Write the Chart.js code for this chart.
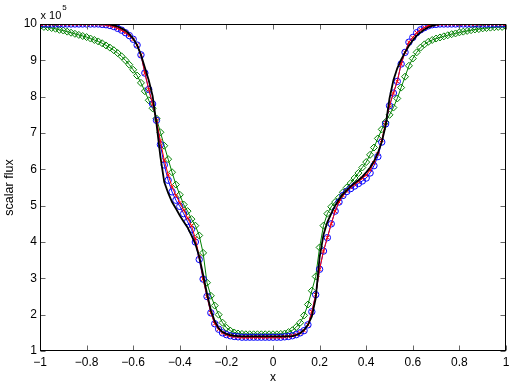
<!DOCTYPE html>
<html>
<head>
<meta charset="utf-8">
<script src="https://cdn.jsdelivr.net/npm/chart.js@4/dist/chart.umd.min.js"></script>
<style>
  html, body { margin: 0; padding: 0; background: #fff; }
  #wrap { width: 515px; height: 388px; }
</style>
</head>
<body>
<div id="wrap"><canvas id="flux" width="515" height="388"></canvas></div>
<script>
// x grid (cell positions)
const xGrid = [
  -1, -0.9833, -0.9667, -0.95, -0.9333, -0.9167, -0.9, -0.8833, -0.8667, -0.85, -0.8333, -0.8167,
  -0.8, -0.7833, -0.7667, -0.75, -0.7333, -0.7167, -0.7, -0.6833, -0.6667, -0.65, -0.6333, -0.6167,
  -0.6, -0.5833, -0.5667, -0.55, -0.5333, -0.5167, -0.5, -0.4833, -0.4667, -0.45, -0.4333, -0.4167,
  -0.4, -0.3833, -0.3667, -0.35, -0.3333, -0.3167, -0.3, -0.2833, -0.2667, -0.25, -0.2333, -0.2167,
  -0.2, -0.1833, -0.1667, -0.15, -0.1333, -0.1167, -0.1, -0.0833, -0.0667, -0.05, -0.0333, -0.0167,
  0, 0.0167, 0.0333, 0.05, 0.0667, 0.0833, 0.1, 0.1167, 0.1333, 0.15, 0.1667, 0.1833,
  0.2, 0.2167, 0.2333, 0.25, 0.2667, 0.2833, 0.3, 0.3167, 0.3333, 0.35, 0.3667, 0.3833,
  0.4, 0.4167, 0.4333, 0.45, 0.4667, 0.4833, 0.5, 0.5167, 0.5333, 0.55, 0.5667, 0.5833,
  0.6, 0.6167, 0.6333, 0.65, 0.6667, 0.6833, 0.7, 0.7167, 0.7333, 0.75, 0.7667, 0.7833,
  0.8, 0.8167, 0.8333, 0.85, 0.8667, 0.8833, 0.9, 0.9167, 0.9333, 0.95, 0.9667, 0.9833,
  1
];

// scalar flux, units of 1e5
const fluxBlack = [
  10, 10, 10, 10, 10, 10, 10, 10, 10, 10, 10, 10,
  10, 10, 10, 10, 10, 10, 9.99, 9.96, 9.93, 9.88, 9.82, 9.72,
  9.60, 9.42, 9.15, 8.80, 8.45, 8.02, 7.25, 6.35, 5.65, 5.35, 5.10, 4.92,
  4.73, 4.56, 4.40, 4.18, 3.95, 3.60, 3.10, 2.58, 2.12, 1.82, 1.63, 1.52,
  1.47, 1.44, 1.42, 1.41, 1.40, 1.40, 1.40, 1.40, 1.40, 1.40, 1.40, 1.40,
  1.40, 1.40, 1.40, 1.40, 1.40, 1.41, 1.44, 1.49, 1.58, 1.72, 1.95, 2.45,
  3.58, 4.20, 4.55, 4.78, 5.00, 5.17, 5.32, 5.43, 5.53, 5.62, 5.70, 5.80,
  5.92, 6.05, 6.22, 6.45, 6.75, 7.20, 7.95, 8.45, 8.78, 9.02, 9.22, 9.40,
  9.55, 9.68, 9.77, 9.85, 9.91, 9.95, 9.98, 10, 10, 10, 10, 10,
  10, 10, 10, 10, 10, 10, 10, 10, 10, 10, 10, 10,
  10
];

const fluxRed = [
  10, 10, 10, 10, 10, 10, 10, 10, 10, 10, 10, 10,
  10, 10, 10, 10, 9.99, 9.98, 9.96, 9.93, 9.88, 9.83, 9.76, 9.68,
  9.58, 9.42, 9.15, 8.65, 8.20, 7.80, 7.35, 6.78, 6.25, 5.85, 5.52, 5.28,
  5.08, 4.88, 4.66, 4.45, 4.10, 3.60, 2.98, 2.50, 2.05, 1.75, 1.60, 1.50,
  1.45, 1.42, 1.40, 1.39, 1.38, 1.38, 1.38, 1.38, 1.38, 1.38, 1.38, 1.38,
  1.38, 1.38, 1.38, 1.39, 1.40, 1.42, 1.45, 1.50, 1.56, 1.72, 2.08, 2.55,
  3.25, 3.75, 4.12, 4.50, 4.85, 5.10, 5.28, 5.40, 5.50, 5.58, 5.66, 5.75,
  5.84, 5.98, 6.18, 6.42, 6.80, 7.28, 7.75, 8.10, 8.42, 8.90, 9.22, 9.50,
  9.63, 9.76, 9.84, 9.90, 9.95, 9.98, 9.99, 10, 10, 10, 10, 10,
  10, 10, 10, 10, 10, 10, 10, 10, 10, 10, 10, 10,
  10
];

const fluxBlue = [
  10, 10, 10, 10, 10, 10, 10, 10, 10, 10, 10, 10,
  10, 10, 10, 10, 9.99, 9.98, 9.96, 9.93, 9.88, 9.83, 9.76, 9.68,
  9.58, 9.42, 9.15, 8.65, 8.20, 7.80, 7.35, 6.68, 6.12, 5.70, 5.38, 5.15,
  4.98, 4.78, 4.56, 4.35, 4.00, 3.52, 2.98, 2.50, 2.05, 1.75, 1.60, 1.50,
  1.45, 1.42, 1.40, 1.39, 1.38, 1.38, 1.38, 1.38, 1.38, 1.38, 1.38, 1.38,
  1.38, 1.38, 1.38, 1.39, 1.40, 1.42, 1.45, 1.50, 1.56, 1.72, 2.08, 2.55,
  3.25, 3.75, 4.12, 4.50, 4.85, 5.10, 5.28, 5.39, 5.47, 5.54, 5.61, 5.68,
  5.76, 5.90, 6.10, 6.35, 6.75, 7.25, 7.75, 8.10, 8.42, 8.90, 9.22, 9.50,
  9.63, 9.76, 9.84, 9.90, 9.95, 9.98, 9.99, 10, 10, 10, 10, 10,
  10, 10, 10, 10, 10, 10, 10, 10, 10, 10, 10, 10,
  10
];

const fluxGreen = [
  9.93, 9.92, 9.91, 9.89, 9.87, 9.84, 9.82, 9.79, 9.76, 9.73, 9.70, 9.67,
  9.64, 9.60, 9.56, 9.52, 9.47, 9.41, 9.35, 9.28, 9.20, 9.11, 9.00, 8.88,
  8.74, 8.58, 8.38, 8.15, 7.90, 7.68, 7.40, 7.02, 6.65, 6.28, 5.92, 5.58,
  5.30, 5.03, 4.85, 4.63, 4.45, 4.18, 3.70, 2.88, 2.52, 2.25, 2.00, 1.78,
  1.64, 1.56, 1.51, 1.48, 1.47, 1.46, 1.46, 1.46, 1.46, 1.46, 1.46, 1.46,
  1.46, 1.46, 1.47, 1.48, 1.52, 1.57, 1.66, 1.78, 1.98, 2.28, 2.66, 3.05,
  3.85, 4.45, 4.78, 4.97, 5.10, 5.22, 5.37, 5.50, 5.62, 5.76, 5.90, 6.05,
  6.20, 6.40, 6.60, 6.85, 7.10, 7.30, 7.50, 7.70, 7.95, 8.25, 8.55, 8.85,
  9.05, 9.22, 9.35, 9.44, 9.51, 9.56, 9.60, 9.63, 9.66, 9.69, 9.72, 9.74,
  9.77, 9.79, 9.81, 9.83, 9.85, 9.86, 9.88, 9.89, 9.90, 9.91, 9.92, 9.92,
  9.93
];

const xTicks = [-1, -0.8, -0.6, -0.4, -0.2, 0, 0.2, 0.4, 0.6, 0.8, 1];
const yTicks = [1, 2, 3, 4, 5, 6, 7, 8, 9, 10];

const FONT = 'Liberation Sans, Arial, Helvetica, sans-serif';

function toPoints(arr) {
  return xGrid.map((x, i) => ({ x: x, y: arr[i] }));
}

// matlab-ish tick label, unicode minus
function fmtTick(v) {
  const r = Math.round(v * 10) / 10;
  if (r === 0) return '0';
  const s = String(Math.abs(r));
  return r < 0 ? '\u2212' + s : s;
}

// box + inward ticks + exponent label
const matlabAxes = {
  id: 'matlabAxes',
  afterDraw(chart) {
    const ctx = chart.ctx;
    const a = chart.chartArea;
    const xs = chart.scales.x, ys = chart.scales.y;
    const L = Math.round(a.left) + 0.5, R = Math.round(a.right) - 0.5;
    const T = Math.round(a.top) + 0.5, B = Math.round(a.bottom) - 0.5;
    const tl = 5;
    ctx.save();
    ctx.lineWidth = 1;
    ctx.beginPath();
    xTicks.forEach(v => {
      const px = Math.round(xs.getPixelForValue(v)) + 0.5;
      ctx.moveTo(px, B); ctx.lineTo(px, B - tl);
      ctx.moveTo(px, T); ctx.lineTo(px, T + tl);
    });
    yTicks.forEach(v => {
      const py = Math.round(ys.getPixelForValue(v)) + 0.5;
      ctx.moveTo(L, py); ctx.lineTo(L + tl, py);
      ctx.moveTo(R, py); ctx.lineTo(R - tl, py);
    });
    ctx.strokeStyle = '#666';
    ctx.stroke();
    ctx.strokeStyle = '#000';
    ctx.strokeRect(L, T, R - L, B - T);

    ctx.fillStyle = '#000';
    ctx.textBaseline = 'alphabetic';
    ctx.textAlign = 'left';
    ctx.font = '11px ' + FONT;
    ctx.fillText('x 10', L, 19);
    const w = ctx.measureText('x 10').width;
    ctx.font = '8px ' + FONT;
    ctx.fillText('5', L + w + 1, 10);
    ctx.restore();
  }
};

const ctx = document.getElementById('flux').getContext('2d');
new Chart(ctx, {
  type: 'line',
  data: {
    datasets: [
      {
        label: 'reference',
        data: toPoints(fluxBlack),
        borderColor: '#000000',
        borderWidth: 1.8,
        pointRadius: 0,
        order: 0
      },
      {
        label: 'red',
        data: toPoints(fluxRed),
        borderColor: '#ff0000',
        borderWidth: 1,
        pointStyle: 'crossRot',
        pointRadius: 2.5,
        pointBorderColor: '#ff0000',
        pointBorderWidth: 1,
        order: 1
      },
      {
        label: 'blue',
        data: toPoints(fluxBlue),
        borderColor: '#0000ff',
        borderWidth: 1,
        pointStyle: 'circle',
        pointRadius: 3.2,
        pointBorderColor: '#0000ff',
        pointBackgroundColor: 'rgba(0,0,0,0)',
        pointBorderWidth: 1,
        order: 2
      },
      {
        label: 'green',
        data: toPoints(fluxGreen),
        borderColor: '#008000',
        borderWidth: 1,
        pointStyle: 'rectRot',
        pointRadius: 3.5,
        pointBorderColor: '#008000',
        pointBackgroundColor: 'rgba(0,0,0,0)',
        pointBorderWidth: 1,
        order: 3
      }
    ]
  },
  options: {
    responsive: false,
    devicePixelRatio: 1,
    animation: false,
    layout: { padding: { top: 24, right: 9, left: 0, bottom: 0 } },
    elements: { line: { tension: 0, fill: false } },
    plugins: {
      legend: { display: false },
      tooltip: { enabled: false }
    },
    scales: {
      x: {
        type: 'linear',
        min: -1,
        max: 1,
        afterBuildTicks: s => { s.ticks = xTicks.map(v => ({ value: v })); },
        afterFit: s => { s.height = 37; },
        grid: { display: false, drawTicks: false },
        border: { display: false },
        ticks: {
          color: '#000',
          padding: 4,
          maxRotation: 0,
          font: { family: FONT, size: 12 },
          callback: v => fmtTick(v)
        },
        title: {
          display: true,
          text: 'x',
          color: '#000',
          font: { family: FONT, size: 12 },
          padding: { top: 0, bottom: 3 }
        }
      },
      y: {
        type: 'linear',
        min: 1,
        max: 10,
        afterBuildTicks: s => { s.ticks = yTicks.map(v => ({ value: v })); },
        afterFit: s => { s.width = 40; },
        grid: { display: false, drawTicks: false },
        border: { display: false },
        ticks: {
          color: '#000',
          padding: 3,
          font: { family: FONT, size: 12 },
          callback: v => String(v)
        },
        title: {
          display: true,
          text: 'scalar flux',
          color: '#000',
          font: { family: FONT, size: 12.5 },
          padding: { top: 2, bottom: 0 }
        }
      }
    }
  },
  plugins: [matlabAxes]
});
</script>
</body>
</html>
